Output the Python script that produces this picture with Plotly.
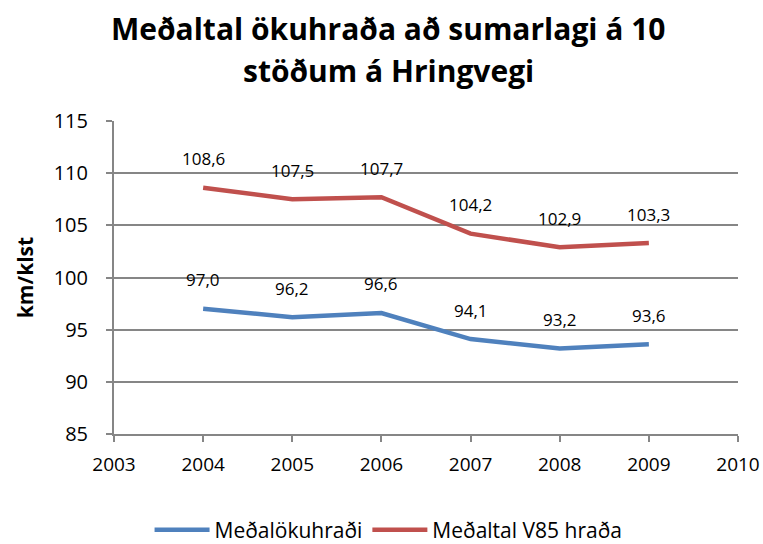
import plotly.graph_objects as go

years = [2004, 2005, 2006, 2007, 2008, 2009]
medal = [97.0, 96.2, 96.6, 94.1, 93.2, 93.6]
v85 = [108.6, 107.5, 107.7, 104.2, 102.9, 103.3]
series_names = ["Meðalökuhraði", "Meðaltal V85 hraða"]
colors = ["#4F81BD", "#C0504D"]
title_lines = ["Meðaltal ökuhraða að sumarlagi á 10", "stöðum á Hringvegi"]
ytitle = "km/klst"

font = "Open Sans, Liberation Sans, sans-serif"

T, B = 121, 434  # plot area top/bottom in px
H = B - T

fig = go.Figure()
for name, vals, col in zip(series_names, [medal, v85], colors):
    fig.add_trace(go.Scatter(x=years, y=vals, mode="lines", name=name,
                             line=dict(color=col, width=4.5)))
    for x, y in zip(years, vals):
        fig.add_annotation(x=x, y=y, text=f"{y:.1f}".replace(".", ","),
                           showarrow=False, yshift=29,
                           font=dict(size=17, color="#000", family=font))

for line, ypx in zip(title_lines, [28, 70]):
    fig.add_annotation(xref="paper", yref="paper", x=0.44, y=1 + (T - ypx) / H,
                       xanchor="center", yanchor="middle", showarrow=False,
                       text=f"<b>{line}</b>",
                       font=dict(size=30, family=font, color="#000"))

fig.update_layout(
    width=763, height=544,
    margin=dict(l=114, r=25, t=T, b=544 - B, autoexpand=False),
    paper_bgcolor="white", plot_bgcolor="white",
    showlegend=True,
    legend=dict(orientation="h", x=0.44, xanchor="center",
                yref="container", y=1 - 530 / 544, yanchor="middle",
                font=dict(size=21, family=font, color="#000"),
                itemwidth=55, tracegroupgap=0),
    font=dict(family=font, color="#000"),
)
fig.update_xaxes(range=[2003, 2010], tickmode="linear", tick0=2003, dtick=1,
                 showgrid=False, showline=True, linecolor="#868686", linewidth=2,
                 ticks="outside", ticklen=6, tickcolor="#868686", tickwidth=2,
                 tickfont=dict(size=19, family=font, color="#000"),
                 ticklabelstandoff=6, automargin=False)
fig.update_yaxes(range=[85, 115], tickmode="linear", tick0=85, dtick=5,
                 showgrid=True, gridcolor="#868686", gridwidth=2,
                 showline=True, linecolor="#868686", linewidth=2,
                 ticks="outside", ticklen=6, tickcolor="#868686", tickwidth=2,
                 tickfont=dict(size=20, family=font, color="#000"),
                 ticklabelstandoff=14, automargin=False,
                 title=dict(text=ytitle, font=dict(size=21, family=font, color="#000", weight="bold"),
                            standoff=14))

fig.write_html("out.html", config={"displayModeBar": False},
               post_script="document.body.style.margin='0';")
